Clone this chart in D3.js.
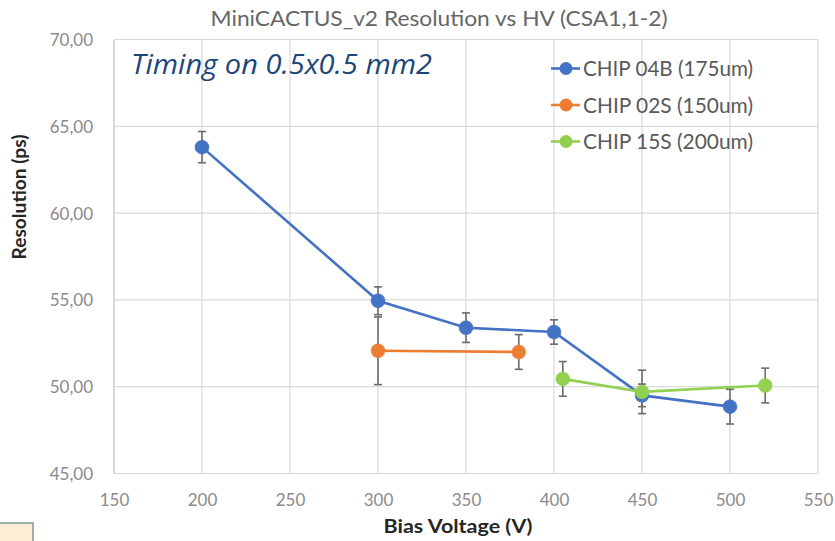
<!DOCTYPE html>
<html><head><meta charset="utf-8">
<script src="https://cdn.jsdelivr.net/npm/d3@7"></script>
<style>html,body{margin:0;padding:0;background:#fff;}svg{display:block;}</style>
</head><body>
<svg id="chart" width="835" height="541"></svg>
<script>
const xTicks = [150,200,250,300,350,400,450,500,550];
const yTicks = [45,50,55,60,65,70];
const seriesNames = ["CHIP 04B (175um)","CHIP 02S (150um)","CHIP 15S (200um)"];
const seriesColors = ["#4472c4","#ed7d31","#92d050"];
const blueX = [200,300,350,400,450,500];
const blueY = [63.8,54.95,53.4,53.15,49.5,48.85];
const blueErr = [0.9,0.8,0.85,0.7,0.65,1.0];
const orangeX = [300,380];
const orangeY = [52.07,52.0];
const orangeErr = [1.95,1.0];
const greenX = [405,450,520];
const greenY = [50.45,49.7,50.07];
const greenErr = [1.0,1.25,1.0];

const series = [
  {name:seriesNames[0], color:seriesColors[0], pts:blueX.map((x,i)=>({x,y:blueY[i],e:blueErr[i]}))},
  {name:seriesNames[1], color:seriesColors[1], pts:orangeX.map((x,i)=>({x,y:orangeY[i],e:orangeErr[i]}))},
  {name:seriesNames[2], color:seriesColors[2], pts:greenX.map((x,i)=>({x,y:greenY[i],e:greenErr[i]}))}
];

const svg = d3.select("#chart");
const x = d3.scaleLinear().domain([150,550]).range([114,818]);
const y = d3.scaleLinear().domain([45,70]).range([473.5,39.5]);
const fmtY = v => d3.format(".2f")(v).replace(".", ",");

function fit(sel, w){ sel.attr("textLength", w).attr("lengthAdjust","spacingAndGlyphs"); return sel; }

// gridlines
const g = svg.append("g");
g.selectAll(".hg").data(yTicks).join("line")
  .attr("x1", x(150)).attr("x2", x(550)).attr("y1", d=>y(d)).attr("y2", d=>y(d))
  .attr("stroke", "#d9d9d9").attr("stroke-width", 1.2);
g.selectAll(".vg").data(xTicks).join("line")
  .attr("y1", y(45)).attr("y2", y(70)).attr("x1", d=>x(d)).attr("x2", d=>x(d))
  .attr("stroke", d => d===150 ? "#bfbfbf" : "#d9d9d9").attr("stroke-width", 1.2);

// axes labels via d3 axes (no domain/ticks lines)
const yAxis = svg.append("g").attr("transform","translate(93,0)")
  .call(d3.axisLeft(y).tickValues(yTicks).tickFormat(fmtY).tickSize(0).tickPadding(0));
yAxis.select(".domain").remove();
yAxis.selectAll("text").attr("font-family","Lato, 'Open Sans', sans-serif").attr("font-size",17).attr("fill","#8a8a8a").attr("dy","0.35em");

const xAxis = svg.append("g").attr("transform","translate(0,494)")
  .call(d3.axisBottom(x).tickValues(xTicks).tickFormat(d3.format("d")).tickSize(0).tickPadding(0));
xAxis.select(".domain").remove();
xAxis.selectAll("text").attr("font-family","Lato, 'Open Sans', sans-serif").attr("font-size",17).attr("fill","#8a8a8a").attr("dy","0.71em");

// series lines
const line = d3.line().x(d=>x(d.x)).y(d=>y(d.y));
series.forEach(s => {
  svg.append("path").datum(s.pts).attr("d", line).attr("fill","none")
    .attr("stroke", s.color).attr("stroke-width", 2.6);
});
// error bars
series.forEach(s => {
  const eg = svg.append("g").attr("stroke","#6b6b6b").attr("stroke-width",1.6);
  s.pts.forEach(p => {
    eg.append("line").attr("x1",x(p.x)).attr("x2",x(p.x)).attr("y1",y(p.y+p.e)).attr("y2",y(p.y-p.e));
    [p.y+p.e, p.y-p.e].forEach(v => eg.append("line").attr("x1",x(p.x)-4).attr("x2",x(p.x)+4).attr("y1",y(v)).attr("y2",y(v)));
  });
});
// markers
series.forEach(s => {
  svg.append("g").selectAll("circle").data(s.pts).join("circle")
    .attr("cx", d=>x(d.x)).attr("cy", d=>y(d.y)).attr("r", 7)
    .attr("fill", s.color).attr("stroke", s.color).attr("stroke-opacity",0.5).attr("stroke-width",1);
});

// title
fit(svg.append("text").attr("x", 439).attr("y", 26).attr("text-anchor","middle")
  .attr("font-family","Lato, 'Open Sans', sans-serif").attr("font-size",21).attr("fill","#666666")
  .text("MiniCACTUS_v2 Resolution vs HV (CSA1,1-2)"), 457);

// annotation
fit(svg.append("text").attr("x", 131).attr("y", 74)
  .attr("font-family","'Open Sans', sans-serif").attr("font-style","italic").attr("font-size",28).attr("fill","#1b467a")
  .text("Timing on 0.5x0.5 mm2"), 301);

// legend
const lg = svg.append("g");
series.forEach((s,i) => {
  const cy = 68.5 + i*36.5;
  lg.append("line").attr("x1",551).attr("x2",580).attr("y1",cy).attr("y2",cy).attr("stroke",s.color).attr("stroke-width",2.6);
  lg.append("circle").attr("cx",566).attr("cy",cy).attr("r",6.5).attr("fill",s.color);
  fit(lg.append("text").attr("x",583).attr("y",cy+7.5)
    .attr("font-family","Lato, 'Open Sans', sans-serif").attr("font-size",21).attr("fill","#595959")
    .text(s.name), 170);
});

// axis titles
fit(svg.append("text").attr("x", 458).attr("y", 533).attr("text-anchor","middle")
  .attr("font-family","Lato, 'Open Sans', sans-serif").attr("font-weight","bold").attr("font-size",19).attr("fill","#262626")
  .text("Bias Voltage (V)"), 149);
fit(svg.append("text").attr("transform","translate(26,197) rotate(-90)").attr("text-anchor","middle")
  .attr("font-family","Lato, 'Open Sans', sans-serif").attr("font-weight","bold").attr("font-size",18).attr("fill","#262626")
  .text("Resolution (ps)"), 125);

// bottom-left small box
svg.append("rect").attr("x",-2).attr("y",523).attr("width",35).attr("height",22)
  .attr("fill","#fdecd6").attr("stroke","#7f9a8a").attr("stroke-width",1.5);
</script>
</body></html>
